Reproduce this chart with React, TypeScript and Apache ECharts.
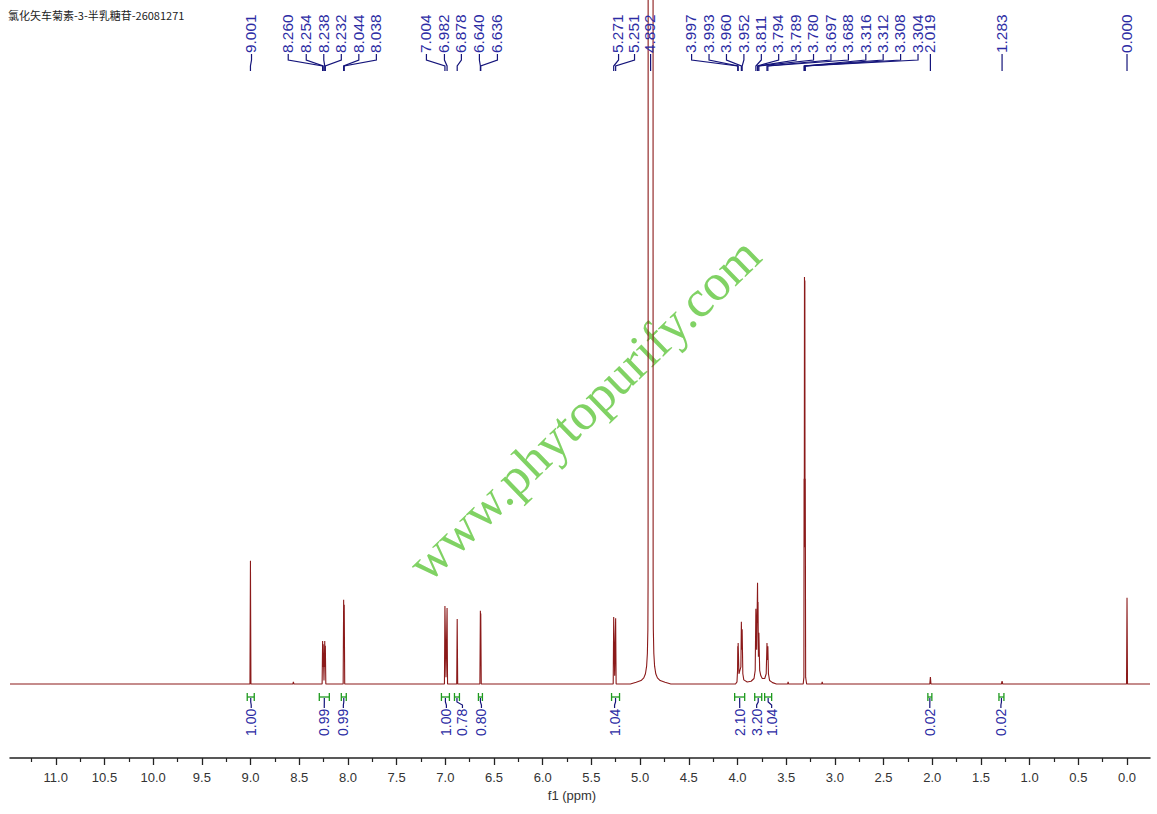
import React, { useEffect, useRef } from "react";
import * as echarts from "echarts";

const TITLE = "氯化矢车菊素-3-半乳糖苷-26081271";
const WATERMARK = "www.phytopurify.com";
const AXIS_NAME = "f1 (ppm)";

const X_MIN = -0.236;
const X_MAX = 11.47;
const Y_MIN = -10.82;
const Y_MAX = 100;

const tickValues = [0, 0.5, 1, 1.5, 2, 2.5, 3, 3.5, 4, 4.5, 5, 5.5, 6, 6.5, 7, 7.5, 8, 8.5, 9, 9.5, 10, 10.5, 11];
const tickLabels = ["0.0", "0.5", "1.0", "1.5", "2.0", "2.5", "3.0", "3.5", "4.0", "4.5", "5.0", "5.5", "6.0", "6.5", "7.0", "7.5", "8.0", "8.5", "9.0", "9.5", "10.0", "10.5", "11.0"];
const minorTickValues = [0.25, 0.75, 1.25, 1.75, 2.25, 2.75, 3.25, 3.75, 4.25, 4.75, 5.25, 5.75, 6.25, 6.75, 7.25, 7.75, 8.25, 8.75, 9.25, 9.75, 10.25, 10.75, 11.25];

// [ppm, intensity]
const spectrum: [number, number][] = [
  [11.47, 0], [9.006, 0], [9.001, 18.0], [8.996, 0],
  [8.565, 0], [8.56, 0.3], [8.555, 0],
  [8.265, 0], [8.26, 6.3], [8.257, 2.5], [8.254, 5.8], [8.246, 0.5], [8.238, 6.3], [8.235, 2.5], [8.232, 5.6], [8.227, 0],
  [8.049, 0], [8.044, 12.3], [8.041, 6], [8.038, 11.6], [8.033, 0],
  [7.009, 0], [7.004, 11.4], [6.993, 1.0], [6.982, 11.1], [6.977, 0],
  [6.883, 0], [6.878, 9.5], [6.873, 0],
  [6.645, 0], [6.64, 10.7], [6.638, 7], [6.636, 10.3], [6.631, 0],
  [5.276, 0], [5.271, 9.8], [5.261, 1.2], [5.251, 9.6], [5.246, 0],
  [5.10, 0], [5.04, 0.25], [4.99, 0.5], [4.962, 0.9], [4.945, 1.5], [4.933, 2.6], [4.925, 4.5], [4.92, 8], [4.918, 15], [4.9175, 40], [4.917, 200],
  [4.892, 500],
  [4.867, 200], [4.8665, 40], [4.866, 15], [4.864, 8], [4.859, 4.5], [4.851, 2.6], [4.839, 1.5], [4.822, 0.9], [4.794, 0.5], [4.744, 0.25], [4.684, 0],
  [4.02, 0], [4.005, 0.3], [3.999, 2], [3.997, 5.5], [3.995, 3], [3.993, 6.0], [3.985, 1.5], [3.975, 2], [3.965, 2.5], [3.96, 9.1], [3.956, 5], [3.952, 8.0], [3.945, 1.5], [3.935, 0.6], [3.9, 0.3], [3.86, 0.4], [3.83, 0.8],
  [3.818, 2], [3.811, 11.0], [3.803, 5], [3.794, 14.8], [3.791, 9], [3.789, 12.0], [3.785, 4], [3.78, 7.5], [3.772, 2.0], [3.76, 1.2], [3.745, 0.8], [3.72, 0.8],
  [3.705, 1.5], [3.697, 6.0], [3.693, 3.5], [3.688, 5.5], [3.682, 1.5], [3.67, 0.5], [3.64, 0.2], [3.6, 0],
  [3.485, 0], [3.48, 0.3], [3.475, 0],
  [3.325, 0], [3.318, 1], [3.316, 30], [3.314, 20], [3.312, 59.5], [3.31, 50], [3.308, 59], [3.306, 20], [3.304, 30], [3.3, 1], [3.29, 0],
  [3.135, 0], [3.13, 0.3], [3.125, 0],
  [2.025, 0], [2.019, 1.0], [2.013, 0],
  [1.29, 0], [1.283, 0.4], [1.276, 0],
  [0.005, 0], [0.0, 12.6], [-0.005, 0], [-0.236, 0],
];

const peakLabels = ["9.001", "8.260", "8.254", "8.238", "8.232", "8.044", "8.038", "7.004", "6.982", "6.878", "6.640", "6.636", "5.271", "5.251", "4.892", "3.997", "3.993", "3.960", "3.952", "3.811", "3.794", "3.789", "3.780", "3.697", "3.688", "3.316", "3.312", "3.308", "3.304", "2.019", "1.283", "0.000"];
const peakPpm = [9.001, 8.26, 8.254, 8.238, 8.232, 8.044, 8.038, 7.004, 6.982, 6.878, 6.64, 6.636, 5.271, 5.251, 4.892, 3.997, 3.993, 3.96, 3.952, 3.811, 3.794, 3.789, 3.78, 3.697, 3.688, 3.316, 3.312, 3.308, 3.304, 2.019, 1.283, 0.0];
const peakLabelPpm = [8.99, 8.613, 8.428, 8.248, 8.068, 7.888, 7.708, 7.194, 7.009, 6.835, 6.65, 6.465, 5.221, 5.057, 4.892, 4.471, 4.292, 4.113, 3.934, 3.755, 3.577, 3.398, 3.219, 3.04, 2.861, 2.682, 2.504, 2.325, 2.146, 2.019, 1.283, 0.0];

const integralValues = ["1.00", "0.99", "0.99", "1.00", "0.78", "0.80", "1.04", "2.10", "3.20", "1.04", "0.02", "0.02"];
const integralFrom = [9.034, 8.294, 8.068, 7.04, 6.906, 6.66, 5.293, 4.029, 3.823, 3.721, 2.045, 1.315];
const integralTo = [8.962, 8.191, 8.017, 6.958, 6.855, 6.619, 5.211, 3.926, 3.751, 3.649, 2.004, 1.264];
const integralLabelPpm = [8.993, 8.243, 8.047, 6.989, 6.824, 6.629, 5.262, 3.977, 3.803, 3.649, 2.025, 1.295];

const LABEL_FONT = '14px "Liberation Sans", Arial, sans-serif';

function renderAnnotations(params: any, api: any) {
  const px = (v: number) => api.coord([v, 0])[0];
  const children: any[] = [];
  for (let i = 0; i < peakPpm.length; i++) {
    const lx = px(peakLabelPpm[i]);
    const x = px(peakPpm[i]);
    children.push({
      type: "polyline",
      shape: { points: [[lx, 54], [lx, 60], [x, 66], [x, 71]] },
      style: { stroke: "#14147a", fill: "none", lineWidth: 1.2 },
    });
    children.push({
      type: "text",
      x: lx,
      y: 53,
      rotation: Math.PI / 2,
      scaleX: 1.1,
      style: { text: peakLabels[i], fill: "#2c2ca4", font: LABEL_FONT, align: "left", verticalAlign: "middle" },
    });
  }
  for (let i = 0; i < integralValues.length; i++) {
    const x1 = px(integralFrom[i]);
    const x2 = px(integralTo[i]);
    const cx = (x1 + x2) / 2;
    const lx = px(integralLabelPpm[i]);
    children.push({ type: "line", shape: { x1, y1: 697, x2, y2: 697 }, style: { stroke: "#1e9a1e", lineWidth: 1.3 } });
    children.push({ type: "line", shape: { x1, y1: 693, x2: x1, y2: 701 }, style: { stroke: "#1e9a1e", lineWidth: 1.3 } });
    children.push({ type: "line", shape: { x1: x2, y1: 693, x2, y2: 701 }, style: { stroke: "#1e9a1e", lineWidth: 1.3 } });
    children.push({
      type: "polyline",
      shape: { points: [[cx, 698], [cx, 702], [lx, 705], [lx, 708]] },
      style: { stroke: "#14147a", fill: "none", lineWidth: 1.2 },
    });
    children.push({
      type: "text",
      x: lx,
      y: 736,
      rotation: Math.PI / 2,
      style: { text: integralValues[i], fill: "#2c2ca4", font: LABEL_FONT, align: "left", verticalAlign: "middle" },
    });
  }
  return { type: "group", children };
}

export default function App() {
  const ref = useRef<HTMLDivElement>(null);
  useEffect(() => {
    if (!ref.current) return;
    const chart = echarts.init(ref.current, null, { renderer: "svg" });
    const labelFor = (v: number) => {
      let best = 0;
      for (let i = 0; i < tickValues.length; i++) {
        if (Math.abs(tickValues[i] - v) < Math.abs(tickValues[best] - v)) best = i;
      }
      return tickLabels[best];
    };
    chart.setOption({
      animation: false,
      backgroundColor: "#ffffff",
      grid: { left: 10, right: 7, top: 0, bottom: 56, containLabel: false },
      xAxis: [
        {
          type: "value",
          min: X_MIN,
          max: X_MAX,
          inverse: true,
          position: "bottom",
          axisLine: { onZero: false, lineStyle: { color: "#222", width: 1.5 } },
          axisTick: { customValues: tickValues, length: 7, lineStyle: { color: "#222", width: 1.3 } },
          axisLabel: {
            customValues: tickValues,
            formatter: (v: number) => labelFor(v),
            margin: 13,
            fontSize: 13,
            color: "#333",
            fontFamily: '"Liberation Sans", Arial, sans-serif',
          },
          splitLine: { show: false },
        },
        {
          type: "value",
          min: X_MIN,
          max: X_MAX,
          inverse: true,
          position: "bottom",
          axisLine: { show: false, onZero: false },
          axisTick: { customValues: minorTickValues, length: 4, lineStyle: { color: "#222", width: 1.2 } },
          axisLabel: { show: false },
          splitLine: { show: false },
        },
      ],
      yAxis: { type: "value", min: Y_MIN, max: Y_MAX, show: false, splitLine: { show: false } },
      series: [
        {
          type: "line",
          xAxisIndex: 0,
          yAxisIndex: 0,
          data: spectrum,
          showSymbol: false,
          symbol: "none",
          clip: true,
          lineStyle: { color: "#8b1a1a", width: 1.1 },
          z: 3,
        },
        {
          type: "custom",
          xAxisIndex: 0,
          yAxisIndex: 0,
          data: [[0, 0]],
          clip: false,
          renderItem: renderAnnotations,
          silent: true,
          z: 4,
        },
      ],
      graphic: [
        {
          type: "text",
          left: 8,
          top: 9,
          style: { text: TITLE, fill: "#222", font: '11px "Noto Sans CJK SC", sans-serif' },
          z: 10,
        },
        {
          type: "text",
          x: 584,
          y: 409,
          rotation: 0.77,
          style: {
            text: WATERMARK,
            fill: "#80d264",
            font: '52px "Liberation Serif", "DejaVu Serif", serif',
            align: "center",
            verticalAlign: "middle",
          },
          z: 1,
        },
        {
          type: "text",
          x: 572,
          y: 795,
          style: {
            text: AXIS_NAME,
            fill: "#333",
            font: '13px "Liberation Sans", Arial, sans-serif',
            align: "center",
            verticalAlign: "middle",
          },
          z: 10,
        },
      ],
    });
    return () => chart.dispose();
  }, []);
  return <div ref={ref} style={{ position: "absolute", left: 0, top: 0, width: 1157, height: 814 }} />;
}
